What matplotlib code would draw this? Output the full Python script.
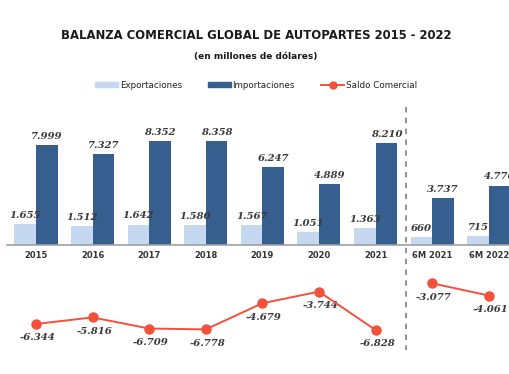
import matplotlib.pyplot as plt
from matplotlib.patches import Patch
from matplotlib.lines import Line2D

categorias = ["2015", "2016", "2017", "2018", "2019", "2020", "2021", "6M 2021", "6M 2022"]
exportaciones = [1655, 1512, 1642, 1580, 1567, 1051, 1363, 660, 715]
importaciones = [7999, 7327, 8352, 8358, 6247, 4889, 8210, 3737, 4776]
saldo = [-6344, -5816, -6709, -6778, -4679, -3744, -6828, -3077, -4061]

c_exp = "#c6d8f0"
c_imp = "#365f8f"
c_saldo = "#f4503a"
c_txt = "#3a3a3a"


def fmt(v):
    return f"{v:,}".replace(",", ".")


fig = plt.figure(figsize=(5.1, 3.74), dpi=100)
ax = fig.add_axes([0, 0, 1, 1])
ax.set_xlim(-0.636, 8.375)
ax.set_ylim(-10361, 19679)
ax.axis("off")

x = list(range(len(categorias)))
w = 0.38
xe = [i - w / 2 for i in x]
xi = [i + w / 2 for i in x]

ax.bar(xe, exportaciones, width=w, color=c_exp, zorder=2)
ax.bar(xi, importaciones, width=w, color=c_imp, zorder=2)
ax.plot([-0.51, 8.5], [0, 0], color="#a0a0a0", lw=1.2, zorder=3)

num_font = dict(family="DejaVu Serif", weight="bold", style="italic", size=7.3, color=c_txt)

for xx, v in zip(xe, exportaciones):
    ax.annotate(fmt(v), (xx, v), xytext=(0, 3), textcoords="offset points",
                ha="center", va="bottom", **num_font)
for xx, v in zip(xi, importaciones):
    ax.annotate(fmt(v), (xx, v), xytext=(0, 3), textcoords="offset points",
                ha="center", va="bottom", **num_font)

for i, c in enumerate(categorias):
    ax.annotate(c, (i, 0), xytext=(0, -7.7), textcoords="offset points",
                ha="center", va="center", fontsize=6, weight="bold", color="#333333")

# linea de saldo, cortada entre anual y semestral
ax.plot(x[:7], saldo[:7], color=c_saldo, lw=1.4, marker="o", ms=6.5, zorder=4)
ax.plot(x[7:], saldo[7:], color=c_saldo, lw=1.4, marker="o", ms=6.5, zorder=4)
for i, v in zip(x, saldo):
    ax.annotate(fmt(v), (i, v), xytext=(1, -10), textcoords="offset points",
                ha="center", va="center", **num_font)

ax.plot([6.53, 6.53], [11084, -8434], color="#8a8a8a", lw=1.3, ls=(0, (3, 3)), zorder=1)

fig.text(0.502, 0.904, "BALANZA COMERCIAL GLOBAL DE AUTOPARTES 2015 - 2022",
         ha="center", va="center", fontsize=8.4, weight="bold", color="#1a1a1a")
fig.text(0.502, 0.848, "(en millones de dólares)", ha="center", va="center",
         fontsize=6.5, weight="bold", color="#1a1a1a")

handles = [Patch(color=c_exp), Patch(color=c_imp),
           Line2D([], [], color=c_saldo, lw=1.4, marker="o", ms=5)]
ax.legend(handles, ["Exportaciones", "Importaciones", "Saldo Comercial"],
          loc="center", bbox_to_anchor=(0.502, 0.772), bbox_transform=fig.transFigure,
          ncol=3, frameon=False, fontsize=6.3, handlelength=2.6, handleheight=0.5,
          handletextpad=0.2, columnspacing=3.0, labelcolor="#222222")

fig.savefig("out.png", dpi=100)
